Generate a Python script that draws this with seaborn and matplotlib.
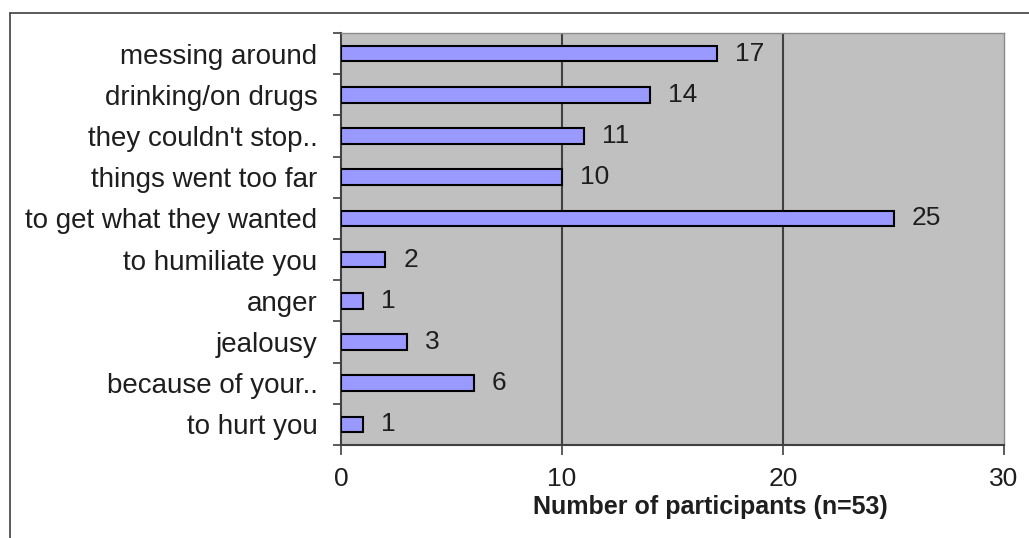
import matplotlib
matplotlib.use("Agg")
import matplotlib.pyplot as plt
import seaborn as sns
import numpy as np
import pandas as pd
from matplotlib.lines import Line2D
from matplotlib.ticker import FixedLocator

categories = ["messing around", "drinking/on drugs", "they couldn't stop..",
              "things went too far", "to get what they wanted", "to humiliate you",
              "anger", "jealousy", "because of your..", "to hurt you"]
values = [17, 14, 11, 10, 25, 2, 1, 3, 6, 1]
xticks = [0, 10, 20, 30]
xlabel = "Number of participants (n=53)"

sns.set_theme(style="white")
plt.rcParams['font.family'] = ['Liberation Sans', 'DejaVu Sans']

df = pd.DataFrame({"reason": categories, "count": values})

W, H = 1029, 538
fig = plt.figure(figsize=(W / 100, H / 100), dpi=100)
ax = fig.add_axes([341 / W, 1 - 445 / H, (1004 - 341) / W, (445 - 33) / H])
ax.set_facecolor("#C0C0C0")

sns.barplot(data=df, x="count", y="reason", orient="h", color="#9999FF",
            edgecolor="black", linewidth=1.5, width=0.38, saturation=1, ax=ax, zorder=3)

ax.set_xlim(0, 30)
ax.set_ylim(len(categories) - 0.5, -0.5)
ax.set_xticks(xticks)
ax.set_xticklabels([str(t) for t in xticks], fontsize=19, color="#1e1e1e")
ax.tick_params(axis="x", length=7, width=1.2, color="#404040", pad=9, direction="out", bottom=True)
ax.tick_params(axis="y", which="major", length=0, pad=17, labelsize=20, labelcolor="#1e1e1e")
ax.yaxis.set_minor_locator(FixedLocator(np.arange(-0.5, len(categories), 1.0)))
ax.tick_params(axis="y", which="minor", length=6, width=1.2, color="#404040", left=True, direction="out")

for v in xticks[1:-1]:
    ax.axvline(v, color="#404040", linewidth=1.5, zorder=1)

for s in ["left", "bottom"]:
    ax.spines[s].set_color("#404040")
    ax.spines[s].set_linewidth(1.5)
for s in ["top", "right"]:
    ax.spines[s].set_color("#8a8a8a")
    ax.spines[s].set_linewidth(1.0)

for c in ax.containers:
    ax.bar_label(c, labels=[str(v) for v in values], padding=13, fontsize=19, color="#1e1e1e")

ax.set_ylabel("")
ax.set_xlabel("")
fig.text(710 / W, 1 - 507 / H, xlabel, ha="center", va="center",
         fontsize=18, fontweight="bold", color="#1e1e1e")

# outer chart border
fig.add_artist(Line2D([10 / W, 1.0], [1 - 13 / H, 1 - 13 / H], transform=fig.transFigure,
                      color="#404040", linewidth=1.2))
fig.add_artist(Line2D([10 / W, 10 / W], [0.0, 1 - 13 / H], transform=fig.transFigure,
                      color="#404040", linewidth=1.2))

fig.savefig("out.png", dpi=100)
